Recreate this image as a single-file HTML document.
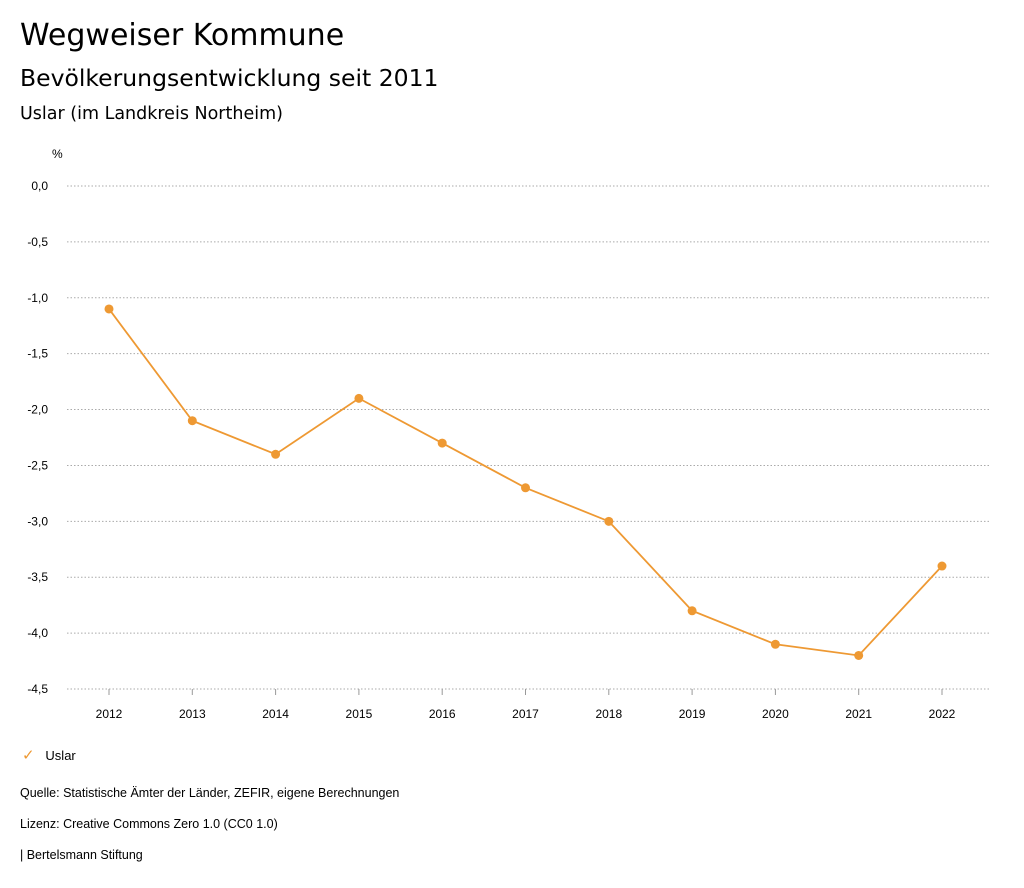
<!DOCTYPE html>
<html><head><meta charset="utf-8"><style>
body{margin:0;width:1024px;height:888px;background:#fff;font-family:"Liberation Sans",sans-serif;color:#000;position:relative;overflow:hidden}
.t{position:absolute;white-space:nowrap}
.d{font-family:"DejaVu Sans",sans-serif}
</style></head><body>
<div class="t d" style="left:20px;top:18px;font-size:30px">Wegweiser Kommune</div>
<div class="t d" style="left:20px;top:64px;font-size:23.5px">Bevölkerungsentwicklung seit 2011</div>
<div class="t d" style="left:20px;top:104px;font-size:17.5px">Uslar (im Landkreis Northeim)</div>
<svg id="chart" width="1024" height="888" style="position:absolute;left:0;top:0" font-family="Liberation Sans, sans-serif"></svg>
<div class="t" style="left:22px;top:746px;font-size:13px"><span style="color:#ee9933;font-size:15px">✓</span>&nbsp;&nbsp;&nbsp;Uslar</div>
<div class="t" style="left:20px;top:786px;font-size:12.5px">Quelle: Statistische Ämter der Länder, ZEFIR, eigene Berechnungen</div>
<div class="t" style="left:20px;top:817px;font-size:12.5px">Lizenz: Creative Commons Zero 1.0 (CC0 1.0)</div>
<div class="t" style="left:20px;top:848px;font-size:12.5px">| Bertelsmann Stiftung</div>
<script>
const years=[2012,2013,2014,2015,2016,2017,2018,2019,2020,2021,2022];
const values=[-1.1,-2.1,-2.4,-1.9,-2.3,-2.7,-3.0,-3.8,-4.1,-4.2,-3.4];
const yTicks=[0,-0.5,-1,-1.5,-2,-2.5,-3,-3.5,-4,-4.5];
const svg=document.getElementById('chart');
const NS='http://www.w3.org/2000/svg';
const xs=i=>109+i*(942-109)/(years.length-1);
const ys=v=>186+(-v)*(689-186)/4.5;
function mk(t,a){const e=document.createElementNS(NS,t);for(const k in a)e.setAttribute(k,a[k]);svg.appendChild(e);return e;}
const u=mk('text',{x:52,y:158,'font-size':12});u.textContent='%';


yTicks.forEach(v=>{
  const l=mk('line',{x1:67,x2:990,y1:ys(v),y2:ys(v),stroke:'#aaa','stroke-dasharray':'1.5,2','stroke-width':1});
  
  
  const t=mk('text',{x:48,y:ys(v)+4,'font-size':12,'text-anchor':'end'});
  t.textContent=v.toFixed(1).replace('.',',').replace('-0,0','0,0');
  
  
});
years.forEach((y,i)=>{
  const tk=mk('line',{x1:xs(i),x2:xs(i),y1:689,y2:695,stroke:'#999'});
  
  
  const t=mk('text',{x:xs(i),y:718,'font-size':12,'text-anchor':'middle'});t.textContent=y;
  
  
});
const p=mk('polyline',{points:values.map((v,i)=>xs(i)+','+ys(v)).join(' '),fill:'none',stroke:'#ee9933','stroke-width':1.8});


values.forEach((v,i)=>{
  const c=mk('circle',{cx:xs(i),cy:ys(v),r:4.5,fill:'#ee9933'});
  
  
});
</script>
</body></html>
